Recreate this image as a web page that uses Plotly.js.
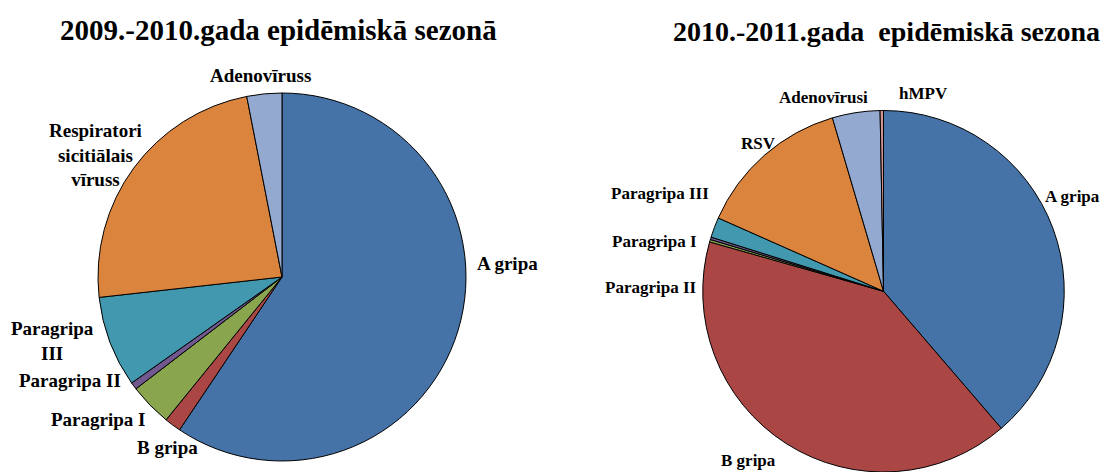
<!DOCTYPE html>
<html>
<head>
<meta charset="utf-8">
<script src="https://cdn.plot.ly/plotly-3.0.1.min.js"></script>
<style>html,body{margin:0;padding:0;background:#fff;}#chart{width:1117px;height:472px;}</style>
</head>
<body>
<div id="chart"></div>
<script>
// Data (percent shares)
var labels2009 = ["A gripa", "B gripa", "Paragripa I", "Paragripa II", "Paragripa III", "Respiratori sicitiālais vīruss", "Adenovīruss"];
var values2009 = [59.4, 1.45, 3.75, 0.63, 8.0, 23.7, 3.07];
var colors2009 = ["#4572A7", "#AA4643", "#89A54E", "#71588F", "#4198AF", "#DB843D", "#93A9CF"];

var labels2010 = ["A gripa", "B gripa", "Paragripa I", "Paragripa II", "Paragripa III", "RSV", "Adenovīrusi", "hMPV"];
var values2010 = [38.7, 40.7, 0.22, 0.22, 1.8, 13.8, 4.26, 0.3];
var colors2010 = ["#4572A7", "#AA4643", "#89A54E", "#71588F", "#4198AF", "#DB843D", "#93A9CF", "#D19392"];

var W = 1117, H = 472;
function px(x){ return x / W; }
function py(y){ return (H - y) / H; }

var serif = "Liberation Serif, Times New Roman, serif";

var traces = [
  {
    type: "pie", labels: labels2009, values: values2009, sort: false,
    direction: "clockwise", rotation: 0, textinfo: "none", hoverinfo: "label+percent",
    marker: {colors: colors2009, line: {color: "#000", width: 1}},
    domain: {x: [px(98), px(466)], y: [py(461), py(93)]},
    showlegend: false
  },
  {
    type: "pie", labels: labels2010, values: values2010, sort: false,
    direction: "clockwise", rotation: 0, textinfo: "none", hoverinfo: "label+percent",
    marker: {colors: colors2010, line: {color: "#000", width: 1}},
    domain: {x: [px(702.5), px(1064.5)], y: [0, py(110.5)]},
    showlegend: false
  }
];

function ann(text, x, y, size){
  return {text: text, x: px(x), y: py(y), xref: "paper", yref: "paper",
    xanchor: "center", yanchor: "middle", showarrow: false,
    font: {family: serif, size: size, color: "#000", weight: "bold"}};
}

var annotations = [
  ann("<b>2009.-2010.gada epidēmiskā sezonā</b>", 278, 30, 29),
  ann("<b>2010.-2011.gada&nbsp; epidēmiskā sezona</b>", 886, 31, 28),
  ann("<b>Adenovīruss</b>", 260, 75, 19),
  ann("<b>Respiratori<br>sicitiālais<br>vīruss</b>", 95, 155, 19),
  ann("<b>A gripa</b>", 507, 263, 19),
  ann("<b>Paragripa<br>III</b>", 52, 341, 19),
  ann("<b>Paragripa II</b>", 70, 380, 19),
  ann("<b>Paragripa I</b>", 98, 419, 19),
  ann("<b>B gripa</b>", 167, 447, 19),
  ann("<b>hMPV</b>", 923, 93, 17),
  ann("<b>Adenovīrusi</b>", 823, 97, 17),
  ann("<b>RSV</b>", 758, 144, 17),
  ann("<b>Paragripa III</b>", 660, 193, 17),
  ann("<b>Paragripa I</b>", 654, 241, 17),
  ann("<b>Paragripa II</b>", 651, 287, 17),
  ann("<b>A gripa</b>", 1072, 196, 17),
  ann("<b>B gripa</b>", 748, 460, 17)
];

var layout = {
  width: W, height: H,
  margin: {l: 0, r: 0, t: 0, b: 0},
  paper_bgcolor: "#fff", plot_bgcolor: "#fff",
  annotations: annotations
};

Plotly.newPlot("chart", traces, layout, {displayModeBar: false, staticPlot: true});
</script>
</body>
</html>
